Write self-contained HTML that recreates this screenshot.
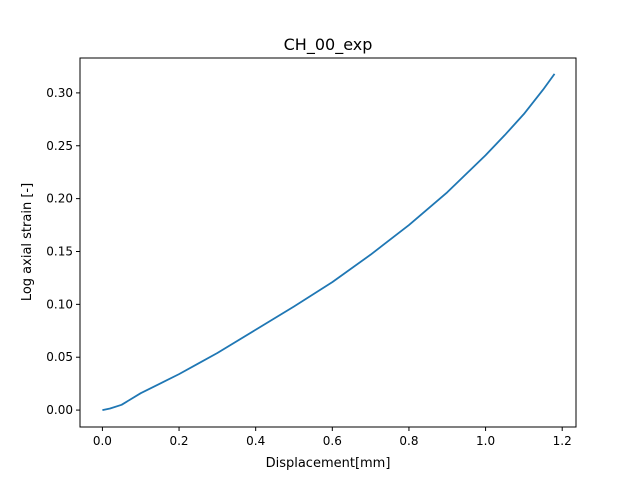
<!DOCTYPE html>
<html><head><meta charset="utf-8"><style>
body{margin:0;background:#fff;}
text{font-family:"DejaVu Sans","Liberation Sans",sans-serif;}
</style></head><body>
<svg id="chart" width="640" height="480" xmlns="http://www.w3.org/2000/svg">
<rect width="640" height="480" fill="#fff"/>
<text x="328" y="50" text-anchor="middle" font-size="16">CH_00_exp</text>
<g id="axes"></g>
<text x="328" y="467" text-anchor="middle" font-size="13">Displacement[mm]</text>
<text transform="translate(31,242) rotate(-90)" text-anchor="middle" font-size="13">Log axial strain [-]</text>
</svg>
<script>
const xs=[0,0.02,0.05,0.1,0.15,0.2,0.25,0.3,0.4,0.5,0.6,0.7,0.8,0.9,1.0,1.05,1.1,1.15,1.18];
const ys=[0,0.0015,0.005,0.016,0.025,0.034,0.044,0.054,0.076,0.098,0.121,0.147,0.175,0.206,0.241,0.26,0.28,0.303,0.318];
const xTicks=[0.0,0.2,0.4,0.6,0.8,1.0,1.2];
const yTicks=[0.00,0.05,0.10,0.15,0.20,0.25,0.30];
const L=80,R=576,T=58,B=427,x0=-0.0585,x1=1.236,y0=-0.016,y1=0.333;
const X=v=>L+(v-x0)/(x1-x0)*(R-L);
const Y=v=>B-(v-y0)/(y1-y0)*(B-T);
const ns="http://www.w3.org/2000/svg";
const g=document.getElementById('axes');
function mk(t,a,p){const e=document.createElementNS(ns,t);for(const k in a)e.setAttribute(k,a[k]);(p||g).appendChild(e);return e;}
const line=mk('path',{d:xs.map((v,i)=>(i?'L':'M')+X(v).toFixed(2)+','+Y(ys[i]).toFixed(2)).join(''),fill:'none',stroke:'#1f77b4','stroke-width':1.8,'stroke-linejoin':'round'});


const fr=mk('rect',{x:L,y:T,width:R-L,height:B-T,fill:'none',stroke:'#000','stroke-width':1});


xTicks.forEach(v=>{const x=X(v);mk('line',{x1:x,x2:x,y1:B,y2:B+4,stroke:'#000'});
const t=mk('text',{x:x,y:B+18,'text-anchor':'middle','font-size':12});t.textContent=v.toFixed(1);

});
yTicks.forEach(v=>{const y=Y(v);mk('line',{x1:L-4,x2:L,y1:y,y2:y,stroke:'#000'});
const t=mk('text',{x:L-7,y:y+4,'text-anchor':'end','font-size':12});t.textContent=v.toFixed(2);

});
</script>
</body></html>
